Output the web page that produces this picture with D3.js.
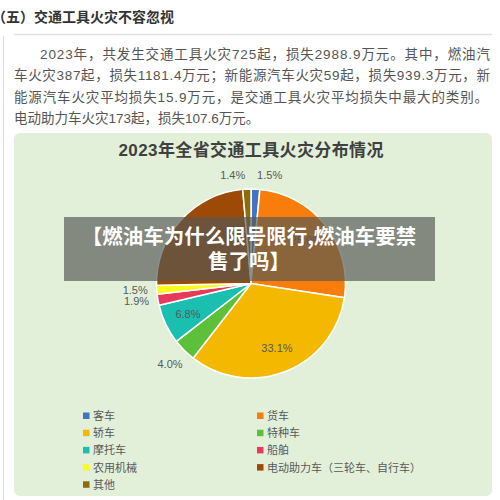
<!DOCTYPE html>
<html><head><meta charset="utf-8">
<script src="https://cdn.jsdelivr.net/npm/d3@7"></script>
<style>html,body{margin:0;padding:0;background:#fff;overflow:hidden}</style>
</head><body>
<svg id="c" width="500" height="500"></svg>
<script>
const heading = "（五）交通工具火灾不容忽视";
const paragraphLines = [
  "2023年，共发生交通工具火灾725起，损失2988.9万元。其中，燃油汽",
  "车火灾387起，损失1181.4万元；新能源汽车火灾59起，损失939.3万元，新",
  "能源汽车火灾平均损失15.9万元，是交通工具火灾平均损失中最大的类别。",
  "电动助力车火灾173起，损失107.6万元。"
];
const chartTitle = "2023年全省交通工具火灾分布情况";
const categories = ["客车","货车","轿车","特种车","摩托车","船舶","农用机械","电动助力车（三轮车、自行车）","其他"];
const shares = [1.5, 25.9, 33.1, 4.0, 6.8, 1.9, 1.5, 23.9, 1.4];
const colors = ["#4472c4","#f97d0b","#f5b800","#5cc03a","#1bbfb0","#e8395a","#fafa1e","#9c4a06","#8c6d0a"];
const labelMode = ["top-start","inside","inside","outside","inside","left","left","inside","top-end"];
const bannerLines = ["【燃油车为什么限号限行,燃油车要禁", "售了吗】"];

const svg = d3.select("#c");
const cjk = "'Liberation Sans','Noto Sans CJK SC',sans-serif";

// page frame
svg.append("line").attr("x1",3.5).attr("x2",3.5).attr("y1",36).attr("y2",500).attr("stroke","#dcdcdc");
svg.append("text").attr("x",-8).attr("y",22).attr("font-family",cjk).attr("font-size",14)
  .attr("font-weight","bold").attr("fill","#333").text(heading);
svg.append("line").attr("x1",14).attr("x2",492).attr("y1",34.5).attr("y2",34.5).attr("stroke","#e2e2e2").attr("stroke-width",1.5);

// paragraph
const pStarts = [40,14,14,14];
const pWidths = [450,476,474,null];
paragraphLines.forEach((t,i)=>{
  const tx = svg.append("text").attr("x",pStarts[i]).attr("y",59+i*21.3)
    .attr("font-family",cjk).attr("font-size",13.5).attr("fill","#555").text(t);
  if (pWidths[i]) tx.attr("textLength",pWidths[i]).attr("lengthAdjust","spacing");
});

// chart box
svg.append("rect").attr("x",14).attr("y",133).attr("width",478).attr("height",363).attr("rx",6)
  .attr("fill","#e2f0d9");
svg.append("text").attr("x",251).attr("y",156).attr("text-anchor","middle")
  .attr("font-family",cjk).attr("font-size",17).attr("font-weight","bold").attr("fill","#404040")
  .attr("textLength",265).attr("lengthAdjust","spacing").text(chartTitle);

// pie
const cx = 251, cy = 283.5, r = 94.5;
const g = svg.append("g").attr("transform",`translate(${cx},${cy})`);
const pie = d3.pie().sort(null).value(d=>d)(shares);
const arc = d3.arc().innerRadius(0).outerRadius(r);
g.selectAll("path").data(pie).join("path").attr("d",arc)
  .attr("fill",(d,i)=>colors[i]).attr("stroke","#fff").attr("stroke-width",1.5);

const labelG = g.append("g").attr("font-family",cjk).attr("font-size",11).attr("fill","#595959");
pie.forEach((d,i)=>{
  const a = (d.startAngle+d.endAngle)/2;
  const mode = labelMode[i];
  let R, anchor = "middle";
  if (mode==="inside") R = r*0.74;
  else if (mode==="outside") R = r+20;
  else if (mode==="left") { R = r+9; anchor="end"; }
  else { R = r+14; anchor = mode==="top-start" ? "start" : "end"; }
  const x = Math.sin(a)*R + (mode==="top-start"?1:mode==="top-end"?-1:0);
  const y = -Math.cos(a)*R;
  labelG.append("text").attr("x",x).attr("y",y).attr("dy","0.35em").attr("text-anchor",anchor)
    .text(shares[i].toFixed(1)+"%");
});

// legend
const legend = svg.append("g").attr("font-family",cjk).attr("font-size",11).attr("fill","#595959");
const colX = [83, 257], rowY0 = 416, rowDy = 17.2;
categories.forEach((c,i)=>{
  const col = i%2, row = Math.floor(i/2);
  const y = rowY0 + row*rowDy;
  legend.append("rect").attr("x",colX[col]).attr("y",y-3.5).attr("width",6.5).attr("height",6.5).attr("fill",colors[i]);
  legend.append("text").attr("x",colX[col]+10).attr("y",y).attr("dy","0.36em").text(c);
});

// banner overlay
svg.append("rect").attr("x",64).attr("y",217).attr("width",371).attr("height",64)
  .attr("fill","rgba(85,88,82,0.68)");
bannerLines.forEach((t,i)=>{
  svg.append("text").attr("x",249).attr("y",237+i*25).attr("dy","0.36em").attr("text-anchor","middle")
    .attr("font-family","'Noto Sans CJK SC',sans-serif").attr("font-size",20.5).attr("font-weight","bold")
    .attr("fill","#fff").text(t);
});
</script>
</body></html>
